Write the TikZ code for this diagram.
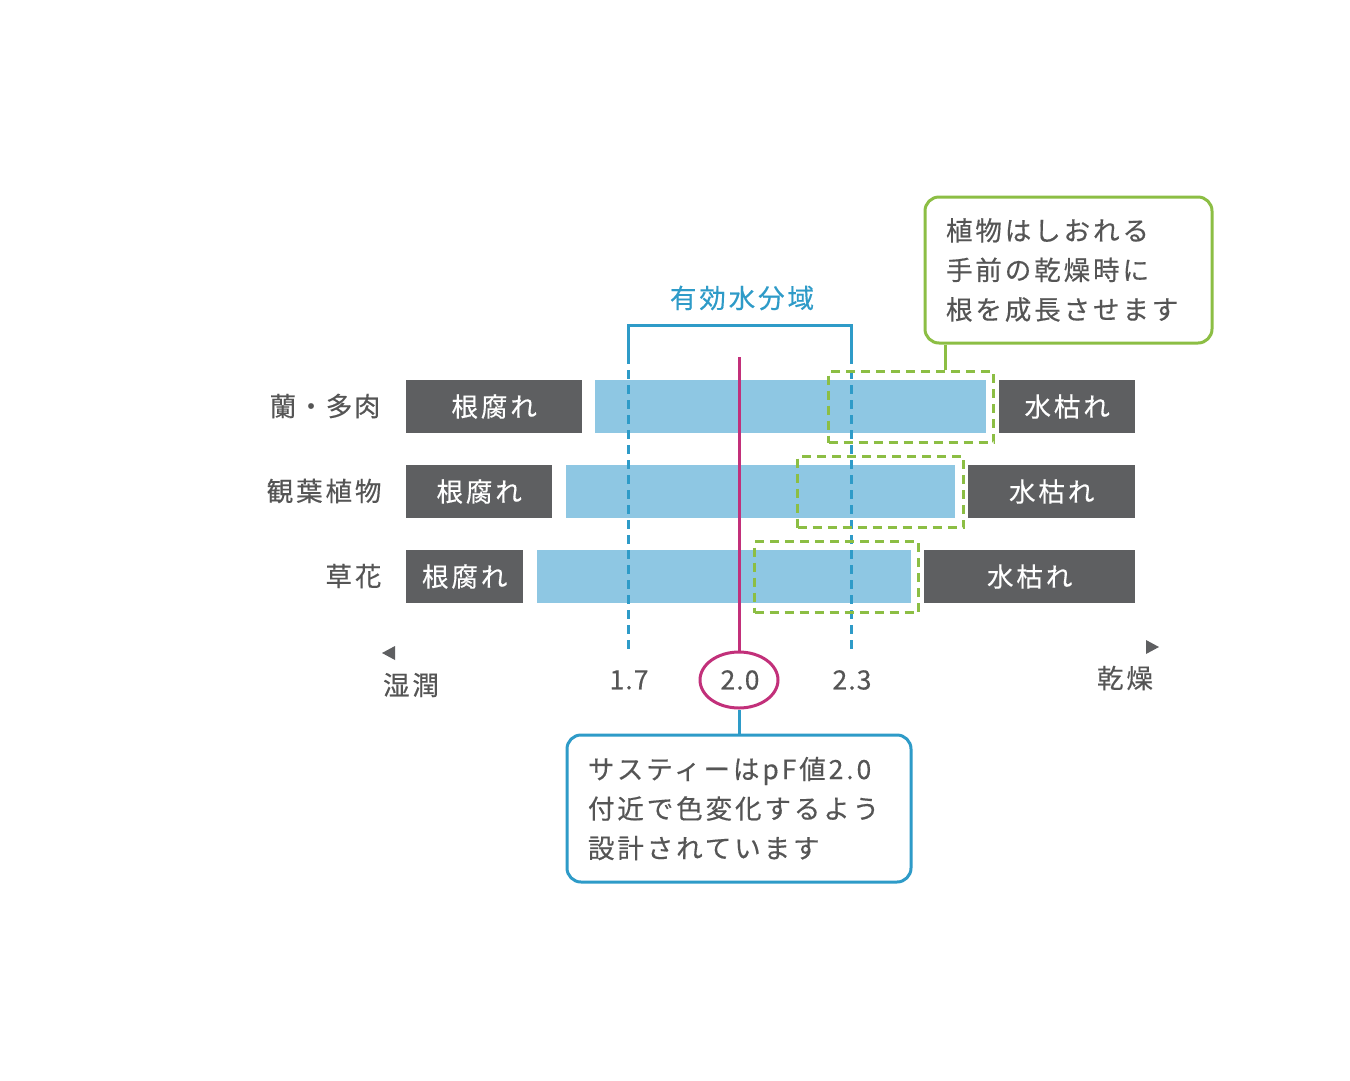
\documentclass[tikz,border=0pt]{standalone}
\usepackage{fontspec}
\setmainfont{Noto Sans CJK JP}
\usetikzlibrary{shapes.geometric}
\definecolor{txt}{HTML}{555555}
\definecolor{darkbar}{HTML}{5E5F61}
\definecolor{lightbar}{HTML}{8EC7E3}
\definecolor{zoneblue}{HTML}{2E9BC8}
\definecolor{mag}{HTML}{C2307A}
\definecolor{grn}{HTML}{8CBE44}
\tikzset{
  jfont/.style={font=\fontsize{26.5}{39.5}\selectfont\addfontfeatures{LetterSpace=11,FakeBold=0.4}},
  numfont/.style={font=\fontsize{26.5}{39.5}\selectfont\addfontfeatures{LetterSpace=4,FakeBold=0.4}},
  darkbox/.style={fill=darkbar, draw=none, minimum height=53pt, inner sep=0pt, anchor=west, text=white, jfont},
  lightbox/.style={fill=lightbar, draw=none, minimum height=53pt, inner sep=0pt, anchor=west},
  rowlabel/.style={anchor=east, text=txt, jfont},
  greendash/.style={draw=grn, line width=3pt, dash pattern=on 9pt off 6pt, minimum height=71pt, inner sep=0pt, anchor=north west},
  bluedash/.style={draw=zoneblue, line width=3pt, dash pattern=on 9pt off 6pt},
  bluesolid/.style={draw=zoneblue, line width=3pt},
  axislabel/.style={text=txt, jfont},
  numlabel/.style={text=txt, numfont},
  callout/.style={rounded corners=14pt, line width=3pt, text=txt, jfont, align=left, inner sep=0pt}
}
\begin{document}
\begin{tikzpicture}[x=1pt,y=-1pt]
\useasboundingbox[fill=white] (0,0) rectangle (1350,1080);

% row labels
\node[rowlabel, font=\fontsize{26.5}{39.5}\selectfont\addfontfeatures{LetterSpace=6,FakeBold=0.4}] (l1) at (384,406) {蘭・多肉};
\node[rowlabel] (l2) at (385,491) {観葉植物};
\node[rowlabel] (l3) at (385,576) {草花};

% row 1
\node[darkbox, minimum width=176pt] (r1a) at (406,406.5) {根腐れ};
\node[lightbox, minimum width=391pt] (r1b) at (595,406.5) {};
\node[darkbox, minimum width=136pt] (r1c) at (999,406.5) {水枯れ};
% row 2
\node[darkbox, minimum width=146pt] (r2a) at (406,491.5) {根腐れ};
\node[lightbox, minimum width=389pt] (r2b) at (566,491.5) {};
\node[darkbox, minimum width=167pt] (r2c) at (968,491.5) {水枯れ};
% row 3
\node[darkbox, minimum width=117pt] (r3a) at (406,576.5) {根腐れ};
\node[lightbox, minimum width=374pt] (r3b) at (537,576.5) {};
\node[darkbox, minimum width=211pt] (r3c) at (924,576.5) {水枯れ};

% effective water zone bracket
\node[text=zoneblue, jfont] (zone) at (742,298) {有効水分域};
\coordinate (bl) at (628,355);
\coordinate (br) at (851,355);
\coordinate (blb) at (628,650);
\coordinate (brb) at (851,650);
\draw[bluesolid] (bl) -- (628,325) -- (851,325) -- (br);
\draw[bluedash] (bl) -- (blb);
\draw[bluedash] (br) -- (brb);

% green dashed boxes
\node[greendash, minimum width=165pt] (g1) at (827,370) {};
\node[greendash, minimum width=166pt] (g2) at (796,455) {};
\node[greendash, minimum width=164pt] (g3) at (753,540) {};

% green callout
\node[callout, draw=grn, minimum width=287pt, minimum height=146pt, text width=245pt] (gc) at (1068.5,270)
  {植物はしおれる\\手前の乾燥時に\\根を成長させます};
\draw[grn, line width=3pt] (gc.south -| 945,0) -- (g1.north -| 945,0);

% magenta marker
\coordinate (mtop) at (739,357);
\node[ellipse, draw=mag, line width=3pt, minimum width=78pt, minimum height=56pt, inner sep=0pt] (e20) at (739,680) {};
\node[numlabel] (t20) at (740,680) {2.0};
\draw[mag, line width=3pt] (mtop) -- (e20.north);

% axis
\node[numlabel] (t17) at (629,680) {1.7};
\node[numlabel] (t23) at (852,680) {2.3};
\node[axislabel] (wet) at (411,685) {湿潤};
\node[axislabel] (dry) at (1125,678) {乾燥};
\fill[darkbar] (382,653) -- (395,646) -- (395,660) -- cycle;
\fill[darkbar] (1159,647) -- (1146,640) -- (1146,654) -- cycle;

% blue callout
\node[callout, draw=zoneblue, minimum width=344pt, minimum height=147pt, text width=302pt] (bc) at (739,808.5)
  {サスティーはpF値2.0\\付近で色変化するよう\\設計されています};
\draw[bluesolid] (e20.south) -- (bc.north);
\end{tikzpicture}
\end{document}
